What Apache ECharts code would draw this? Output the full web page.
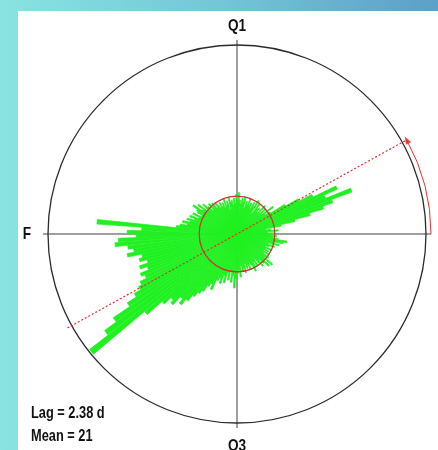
<!DOCTYPE html>
<html>
<head>
<meta charset="utf-8">
<script src="https://cdn.jsdelivr.net/npm/echarts@6/dist/echarts.min.js"></script>
<style>
  html, body { margin: 0; padding: 0; }
  #main { width: 438px; height: 450px; }
</style>
</head>
<body>
<div id="main"></div>
<script>
// lunar phase lag rose
const LUNAR_CYCLE = 29.53;   // days
const LAG_DAYS = 2.38;
const MEAN = 21;
const R_MAX = 105;

const phaseLabels = ['Q1', 'F', 'Q3'];

// 2 degree bins, counter-clockwise from the right
const binCenters = Array.from({ length: 180 }, (_, i) => i * 2 + 1);

const counts = [
  21, 17, 23, 19, 16,   25, 33, 42, 50, 56,
  68, 53, 61, 47, 39,   31, 22, 19, 25, 17,
  21, 17, 22, 16, 19,   18, 21, 14, 22, 18,
  20, 16, 19, 17, 21,   17, 19, 15, 21, 18,
  20, 17, 19, 23, 18,   22, 17, 20, 16, 19,
  18, 21, 14, 19, 17,   21, 16, 19, 17, 20,
  17, 19, 21, 18, 22,   20, 23, 19, 22, 25,
  21, 27, 23, 29, 26,   25, 22, 27, 23, 28,
  25, 29, 27, 31, 28,   32, 34, 78, 53, 61,
  56, 66, 68, 61, 58,   62, 54, 56, 52, 57,
  53, 58, 56, 60, 62,   66, 72, 83, 91, 104,
  67, 56, 51, 53, 47,   50, 46, 42, 39, 37,
  33, 31, 34, 28, 26,   29, 24, 28, 22, 26,
  21, 27, 23, 30, 25,   22, 20, 24, 18, 21,
  19, 22, 17, 20, 18,   21, 17, 19, 23, 21,
  18, 21, 17, 20, 23,   19, 22, 25, 21, 26,
  20, 22, 18, 21, 17,   20, 18, 21, 17, 19,
  22, 18, 24, 21, 26,   28, 23, 20, 22, 19
];

const lagAngle = LAG_DAYS / LUNAR_CYCLE * 360;

const chart = echarts.init(document.getElementById('main'));

const CX = 237, CY = 234, R = 189, R_OUT = 194;
const font = '"Liberation Sans", Arial, sans-serif';
const hidden = { show: false };
const GREEN = '#1ff01f';

function label(text, x, y, size, align) {
  return {
    type: 'text', x: x, y: y, scaleX: 0.8,
    style: { text: text, font: 'bold ' + size + 'px ' + font, fill: '#111', align: align, verticalAlign: 'middle' }
  };
}

const option = {
  animation: false,
  backgroundColor: new echarts.graphic.LinearGradient(0, 0, 1, 0, [
    { offset: 0, color: '#88e4e0' },
    { offset: 0.5, color: '#74c6d8' },
    { offset: 1, color: '#5c9fc8' }
  ]),
  graphic: [
    { type: 'rect', left: 18, top: 11, z: -10, shape: { width: 420, height: 439 }, style: { fill: '#fff' } },
    label(phaseLabels[0], CX, 26, 17, 'center'),
    label(phaseLabels[1], 27, CY, 17, 'center'),
    label(phaseLabels[2], CX, 446, 17, 'center'),
    label('Lag = ' + LAG_DAYS + ' d', 31, 414, 16, 'left'),
    label('Mean = ' + MEAN, 31, 437, 16, 'left')
  ],
  polar: [
    { center: [CX, CY], radius: R },
    { center: [CX, CY], radius: R_OUT },
    { center: [CX, CY], radius: MEAN / R_MAX * R },
    { center: [CX, CY], radius: R_OUT }
  ],
  angleAxis: [
    {
      polarIndex: 0, type: 'category', data: binCenters, startAngle: 0, clockwise: false,
      axisLine: { lineStyle: { color: '#2a2a2a', width: 1.3 } },
      axisTick: hidden, axisLabel: hidden, splitLine: hidden
    },
    {
      polarIndex: 1, type: 'value', min: 0, max: 360, interval: 90, startAngle: 0, clockwise: false,
      axisLine: hidden, axisTick: hidden, axisLabel: hidden,
      splitLine: { show: true, lineStyle: { color: '#808080', width: 1.5 } }
    },
    {
      polarIndex: 2, type: 'value', min: 0, max: 360, startAngle: 0, clockwise: false, z: 5,
      axisLine: { lineStyle: { color: '#d03030', width: 1.2 } },
      axisTick: hidden, axisLabel: hidden, splitLine: hidden
    },
    {
      polarIndex: 3, type: 'value', min: 0, max: lagAngle, startAngle: 0, endAngle: lagAngle, clockwise: false, z: 5,
      axisLine: { lineStyle: { color: '#e03030', width: 1 } },
      axisTick: hidden, axisLabel: hidden, splitLine: hidden
    }
  ],
  radiusAxis: [
    { polarIndex: 0, min: 0, max: R_MAX, show: false },
    { polarIndex: 1, min: 0, max: 1, show: false },
    { polarIndex: 2, min: 0, max: 1, show: false },
    { polarIndex: 3, min: 0, max: 1, show: false }
  ],
  series: [
    {
      type: 'bar',
      coordinateSystem: 'polar',
      polarIndex: 0,
      data: counts,
      barCategoryGap: '8%',
      itemStyle: { color: GREEN, borderColor: GREEN, borderWidth: 0.7 },
      z: 2
    },
    {
      type: 'line',
      coordinateSystem: 'polar',
      polarIndex: 1,
      data: [[1, lagAngle + 180], [1, lagAngle]],
      symbol: 'none',
      lineStyle: { color: '#e03030', width: 1.2, type: [2, 2] },
      z: 4
    },
    {
      type: 'scatter',
      coordinateSystem: 'polar',
      polarIndex: 1,
      data: [[1, lagAngle]],
      symbol: 'triangle',
      symbolSize: [6, 8],
      symbolRotate: lagAngle,
      itemStyle: { color: '#e02020' },
      z: 6
    }
  ]
};

chart.setOption(option);
</script>
</body>
</html>
